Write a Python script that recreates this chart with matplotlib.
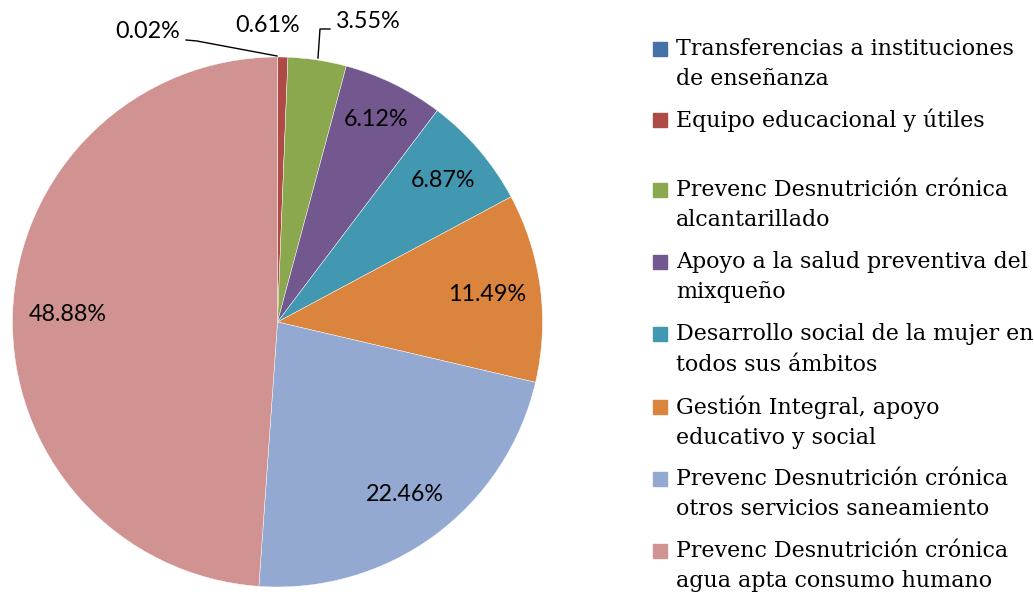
import matplotlib
matplotlib.use("Agg")
import matplotlib.pyplot as plt
from matplotlib.patches import Rectangle
import numpy as np

categories = [
    "Transferencias a instituciones\nde enseñanza",
    "Equipo educacional y útiles",
    "Prevenc Desnutrición crónica\nalcantarillado",
    "Apoyo a la salud preventiva del\nmixqueño",
    "Desarrollo social de la mujer en\ntodos sus ámbitos",
    "Gestión Integral, apoyo\neducativo y social",
    "Prevenc Desnutrición crónica\notros servicios saneamiento",
    "Prevenc Desnutrición crónica\nagua apta consumo humano",
]
shares = [0.02, 0.61, 3.55, 6.12, 6.87, 11.49, 22.46, 48.88]
colors = ["#4672A8", "#AE4B47", "#8BA84E", "#735890", "#4298B0",
          "#DB843D", "#93A9D2", "#D09391"]

W, H = 1034, 594
fig = plt.figure(figsize=(W / 100, H / 100), dpi=100)
ax = fig.add_axes([0, 0, 1, 1])

cx, cy, r = 277.5, H - 322, 265
wedges, _ = ax.pie(shares, colors=colors, startangle=90, counterclock=False,
                   center=(cx, cy), radius=r, frame=True,
                   wedgeprops=dict(linewidth=0.3, edgecolor="white"))
ax.set_xlim(0, W)
ax.set_ylim(0, H)
ax.set_aspect("equal")
ax.axis("off")

lab_font = dict(family=["Lato", "DejaVu Sans"], fontsize=16.8, color="black")

# labels inside the bigger slices
dists = [None, None, None, 0.85, 0.82, 0.8, 0.81, 0.79]
for w, s, d in zip(wedges, shares, dists):
    if d is None:
        continue
    ang = np.deg2rad((w.theta1 + w.theta2) / 2)
    ax.text(cx + d * r * np.cos(ang), cy + d * r * np.sin(ang), f"{s:.2f}%",
            ha="center", va="center", **lab_font)

# small slices with leader lines
ax.text(148, H - 32, f"{shares[0]:.2f}%", ha="center", va="center", **lab_font)
ax.plot([186, 197, 277], [H - 40, H - 41, H - 56], color="black", lw=1)
ax.text(268, H - 25, f"{shares[1]:.2f}%", ha="center", va="center", **lab_font)
ax.text(368, H - 22, f"{shares[2]:.2f}%", ha="center", va="center", **lab_font)
ax.plot([330, 320, 318], [H - 29, H - 29, H - 58], color="black", lw=1)

# legend
leg_font = dict(family=["DejaVu Serif"], fontsize=15.9, color="black")
y0 = 49
for i, (lab, c) in enumerate(zip(categories, colors)):
    y = y0 + i * 71
    if i >= 2:
        y = y0 + 141 + (i - 2) * 72.2
    ax.add_patch(Rectangle((653, H - y - 7), 14, 14, color=c))
    ax.text(676, H - y + 11, lab, ha="left", va="top", linespacing=1.48,
            **leg_font)

fig.savefig("out.png", dpi=100)
